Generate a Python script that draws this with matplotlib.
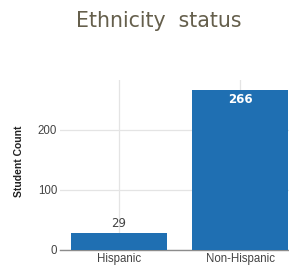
import matplotlib
matplotlib.use('Agg')
from matplotlib import pyplot as plt

# 数据
categories = ['Hispanic', 'Non-Hispanic']
counts = [29, 266]
y_ticks = [0, 100, 200]

W, H = 289, 266
fig = plt.figure(figsize=(W / 100, H / 100), dpi=100)

# 坐标轴位置（像素换算）
ax_left, ax_right, ax_top, ax_bottom = 60, 289, 80, 250
ax = fig.add_axes([ax_left / W, (H - ax_bottom) / H,
                   (ax_right - ax_left) / W, (ax_bottom - ax_top) / H])

x = list(range(len(categories)))
bars = ax.bar(x, counts, width=0.79, color='#1f6fb2', zorder=3)

ax.set_xlim(-0.488, 1.405)
ax.set_ylim(0, 283)
ax.set_yticks(y_ticks)
ax.set_xticks(x)
ax.set_xticklabels(categories)

for s in ['top', 'right', 'left']:
    ax.spines[s].set_visible(False)
ax.spines['bottom'].set_color('#8c8c8c')
ax.spines['bottom'].set_linewidth(1.0)

ax.grid(True, color='#e4e4e4', linewidth=0.9, zorder=0)
ax.tick_params(axis='both', length=0, labelsize=8.3, labelcolor='#444444')
ax.tick_params(axis='y', pad=2)
ax.tick_params(axis='x', pad=2)

# 数据标签
for b, v in zip(bars, counts):
    cx = b.get_x() + b.get_width() / 2
    if v > 150:
        ax.text(cx, v - 5, str(v), ha='center', va='top', fontsize=8.5,
                color='white', fontweight='bold', zorder=4)
    else:
        ax.text(cx, v + 4, str(v), ha='center', va='bottom', fontsize=8.5,
                color='#444444', zorder=4)

fig.text(19 / W, 1 - 161 / H, 'Student Count', rotation=90, ha='center', va='center',
         fontsize=7.5, fontweight='bold', color='#222222', family='Liberation Sans')
fig.text(159 / W, 1 - 21 / H, 'Ethnicity  status', ha='center', va='center',
         fontsize=14.8, color='#655f4c', family='DejaVu Sans')

plt.rcParams['font.family'] = 'Liberation Sans'
for lbl in ax.get_xticklabels() + ax.get_yticklabels():
    lbl.set_family('Liberation Sans')

fig.savefig('out.png', dpi=100)
